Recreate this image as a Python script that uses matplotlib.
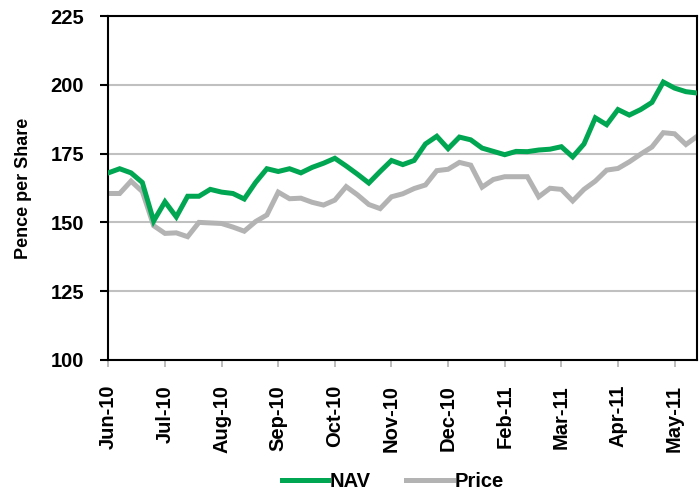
import numpy as np
import matplotlib
matplotlib.use("Agg")
import matplotlib.pyplot as plt

plt.rcParams['font.family'] = ['Liberation Sans', 'DejaVu Sans']
plt.rcParams['font.weight'] = 'bold'

# weekly values, Jun-10 .. end May-11
nav = [168, 169.5, 168, 164.5, 150.5, 157.5, 152, 159.5, 159.5, 162,
       161, 160.5, 158.5, 164.5, 169.5, 168.5, 169.5, 168, 170, 171.5,
       173.3, 170.5, 167.5, 164.3, 168.5, 172.5, 171, 172.5, 178.5, 181.3,
       176.8, 181, 180, 177, 175.8, 174.6, 175.8, 175.7, 176.3, 176.6,
       177.5, 173.8, 178.5, 188, 185.5, 191, 189, 191, 193.6, 201,
       198.8, 197.5, 197]
price = [160.5, 160.5, 165, 161.2, 148.8, 146, 146.2, 144.8, 150, 149.8,
         149.6, 148.3, 146.8, 150.3, 152.7, 161, 158.6, 158.8, 157.3, 156.3,
         158.1, 163, 160, 156.5, 155, 159.3, 160.4, 162.3, 163.6, 168.8,
         169.3, 171.8, 170.8, 162.8, 165.6, 166.6, 166.6, 166.6, 159.3, 162.4,
         162, 157.8, 162, 165, 169, 169.6, 172, 174.8, 177.4, 182.6,
         182.2, 178.3, 181.3]
tick_labels = ['Jun-10', 'Jul-10', 'Aug-10', 'Sep-10', 'Oct-10', 'Nov-10',
               'Dec-10', 'Feb-11', 'Mar-11', 'Apr-11', 'May-11']
tick_every = 5

x = np.arange(len(nav))

fig = plt.figure(figsize=(6.99, 4.94), dpi=100)
ax = fig.add_axes([0.155, 0.2713, 0.8425, 0.6963])

ax.plot(x, nav, color='#00a651', lw=3.6, solid_joinstyle='miter', label='NAV', zorder=3)
ax.plot(x, price, color='#b3b3b3', lw=3.6, solid_joinstyle='miter', label='Price', zorder=2)

ax.set_xlim(0, len(nav) - 1)
ax.set_ylim(100, 225)
ax.set_yticks(np.arange(100, 226, 25))
ax.set_xticks(x[::tick_every][:len(tick_labels)])
ax.set_xticklabels(tick_labels, rotation=90)

ax.grid(axis='y', color='#c0c0c0', lw=1.5, zorder=0)
ax.set_axisbelow(True)
for s in ax.spines.values():
    s.set_color('black')
    s.set_linewidth(1.5)

ax.tick_params(axis='y', direction='out', length=6, width=1.5, color='black',
               pad=11.5, labelsize=14.5)
ax.tick_params(axis='x', direction='out', length=5, width=1.2, color='#b0b0b0',
               pad=13, labelsize=14.5)

ax.set_ylabel('Pence per Share', fontsize=13, fontweight='bold')
ax.yaxis.set_label_coords(-0.13, 0.5)

fig.legend(loc='center', bbox_to_anchor=(0.562, 0.025), ncol=2, frameon=False,
           fontsize=14.5, handlelength=2.3, handletextpad=0.1, columnspacing=1.75)

fig.savefig('out.png', dpi=100)
